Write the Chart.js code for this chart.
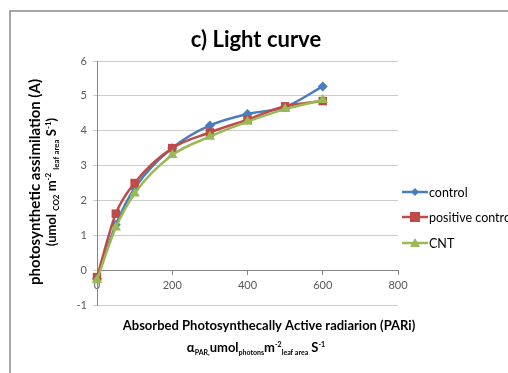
<!DOCTYPE html>
<html>
<head>
<meta charset="utf-8">
<title>c) Light curve</title>
<script src="https://cdn.jsdelivr.net/npm/chart.js@4.4.1/dist/chart.umd.min.js"></script>
<style>
  html, body { margin: 0; padding: 0; background: #fff; }
  #wrap { width: 508px; height: 373px; position: relative; }
</style>
</head>
<body>
<div id="wrap"><canvas id="myChart" width="508" height="373"></canvas></div>
<script>
// Chart data
const parValues = [0, 50, 100, 200, 300, 400, 500, 600];
const controlA = [-0.25, 1.3, 2.35, 3.5, 4.15, 4.48, 4.68, 5.27];
const positiveA = [-0.2, 1.62, 2.5, 3.5, 3.95, 4.32, 4.7, 4.85];
const cntA = [-0.28, 1.22, 2.2, 3.3, 3.83, 4.26, 4.62, 4.88];
const seriesNames = ['control', 'positive control', 'CNT'];
const xTicks = [0, 200, 400, 600, 800];
const yTicks = [-1, 0, 1, 2, 3, 4, 5, 6];

const FONT = 'Lato, "Open Sans", sans-serif';
const colors = ['#4a7ebb', '#be4b48', '#98b954'];
const markers = ['rectRot', 'rect', 'triangle'];
const markerSize = [5, 6, 6];

function toPoints(values) {
    return parValues.map(function (x, i) { return { x: x, y: values[i] }; });
}

// Draws a line of text made of pieces with their own size / vertical shift
function drawRich(ctx, parts, cx, baseY) {
    var total = 0;
    parts.forEach(function (p) {
        ctx.font = 'bold ' + p[1] + 'px ' + FONT;
        p.w = ctx.measureText(p[0]).width;
        total += p.w;
    });
    var x = cx - total / 2;
    ctx.textAlign = 'left';
    ctx.textBaseline = 'alphabetic';
    parts.forEach(function (p) {
        ctx.font = 'bold ' + p[1] + 'px ' + FONT;
        ctx.fillText(p[0], x, baseY + (p[2] || 0));
        x += p.w;
    });
}

function drawMarker(ctx, style, x, y, r, color) {
    ctx.fillStyle = color;
    ctx.beginPath();
    if (style === 'rect') {
        ctx.rect(x - r, y - r, 2 * r, 2 * r);
    } else if (style === 'rectRot') {
        ctx.moveTo(x, y - r); ctx.lineTo(x + r, y); ctx.lineTo(x, y + r); ctx.lineTo(x - r, y);
        ctx.closePath();
    } else {
        ctx.moveTo(x, y - r); ctx.lineTo(x + r, y + r * 0.8); ctx.lineTo(x - r, y + r * 0.8);
        ctx.closePath();
    }
    ctx.fill();
}

// Frame, title, axis titles and legend drawn like the Excel original
const decorPlugin = {
    id: 'decor',
    beforeDraw: function (chart) {
        const ctx = chart.ctx;
        ctx.save();
        ctx.strokeStyle = '#8a8a8a';
        ctx.lineWidth = 1.5;
        ctx.strokeRect(10, 11, 520, 400);
        ctx.restore();
    },
    afterDraw: function (chart) {
        const ctx = chart.ctx;
        ctx.save();
        ctx.fillStyle = '#000';

        // title
        ctx.font = 'bold 22px ' + FONT;
        ctx.textAlign = 'center';
        ctx.textBaseline = 'alphabetic';
        ctx.fillText('c) Light curve', 256, 47);

        // y title (rotated)
        ctx.save();
        ctx.translate(40, 182);
        ctx.rotate(-Math.PI / 2);
        drawRich(ctx, [['photosynthetic assimilation (A)', 15]], 0, 0);
        drawRich(ctx, [
            ['(umol ', 13], ['CO2', 8, 3], [' m', 13], ['-2', 8, -5], [' ', 13],
            ['leaf area', 8, 3], [' S', 13], ['-1', 8, -5], [')', 13]
        ], 0, 16);
        ctx.restore();

        // x title
        drawRich(ctx, [['Absorbed Photosynthecally Active radiarion (PARi)', 13]], 269, 330);
        drawRich(ctx, [
            ['\u03b1', 13], ['PAR,', 7, 3], ['umol', 13], ['photons', 7, 3], ['m', 13],
            ['-2', 7, -5], ['leaf area', 7, 3], [' S', 13], ['-1', 7, -5]
        ], 256, 352);

        // legend
        const legendY = [192, 217, 243];
        for (var i = 0; i < seriesNames.length; i++) {
            ctx.strokeStyle = colors[i];
            ctx.lineWidth = 2.5;
            ctx.beginPath();
            ctx.moveTo(402, legendY[i]);
            ctx.lineTo(428, legendY[i]);
            ctx.stroke();
            drawMarker(ctx, markers[i], 415, legendY[i], markerSize[i] - 1, colors[i]);
            ctx.fillStyle = '#000';
            ctx.font = '12.5px ' + FONT;
            ctx.textAlign = 'left';
            ctx.textBaseline = 'middle';
            ctx.fillText(seriesNames[i], 429, legendY[i] + 1);
        }
        ctx.restore();
    }
};

const ctx = document.getElementById('myChart').getContext('2d');
const myChart = new Chart(ctx, {
    type: 'line',
    data: {
        datasets: [controlA, positiveA, cntA].map(function (vals, i) {
            return {
                label: seriesNames[i],
                data: toPoints(vals),
                borderColor: colors[i],
                backgroundColor: colors[i],
                borderWidth: 2.5,
                pointStyle: markers[i],
                pointRadius: markerSize[i],
                pointBorderWidth: 0,
                cubicInterpolationMode: 'monotone',
                tension: 0.4,
                clip: false,
                order: 3 - i
            };
        })
    },
    options: {
        responsive: false,
        animation: false,
        events: [],
        layout: {
            padding: { left: 67, top: 61, right: 110, bottom: 68 }
        },
        plugins: {
            legend: { display: false },
            title: { display: false },
            tooltip: { enabled: false }
        },
        scales: {
            x: {
                type: 'linear',
                axis: 'x',
                position: { y: 0 },
                min: 0,
                max: 800,
                afterBuildTicks: function (scale) {
                    scale.ticks = xTicks.map(function (v) { return { value: v }; });
                },
                grid: { display: true, drawOnChartArea: false, drawTicks: true, tickLength: 4, color: '#868686' },
                border: { display: true, color: '#868686', width: 1 },
                ticks: { color: '#595959', font: { family: FONT, size: 11 }, padding: 5, maxRotation: 0 }
            },
            y: {
                type: 'linear',
                min: -1,
                max: 6,
                afterBuildTicks: function (scale) {
                    scale.ticks = yTicks.map(function (v) { return { value: v }; });
                },
                afterFit: function (scale) { scale.width = 30; },
                grid: { color: '#cccccc', tickLength: 4, drawTicks: true },
                border: { display: true, color: '#868686', width: 1 },
                ticks: { color: '#595959', font: { family: FONT, size: 11 }, padding: 6 }
            }
        }
    },
    plugins: [decorPlugin]
});
</script>
</body>
</html>
